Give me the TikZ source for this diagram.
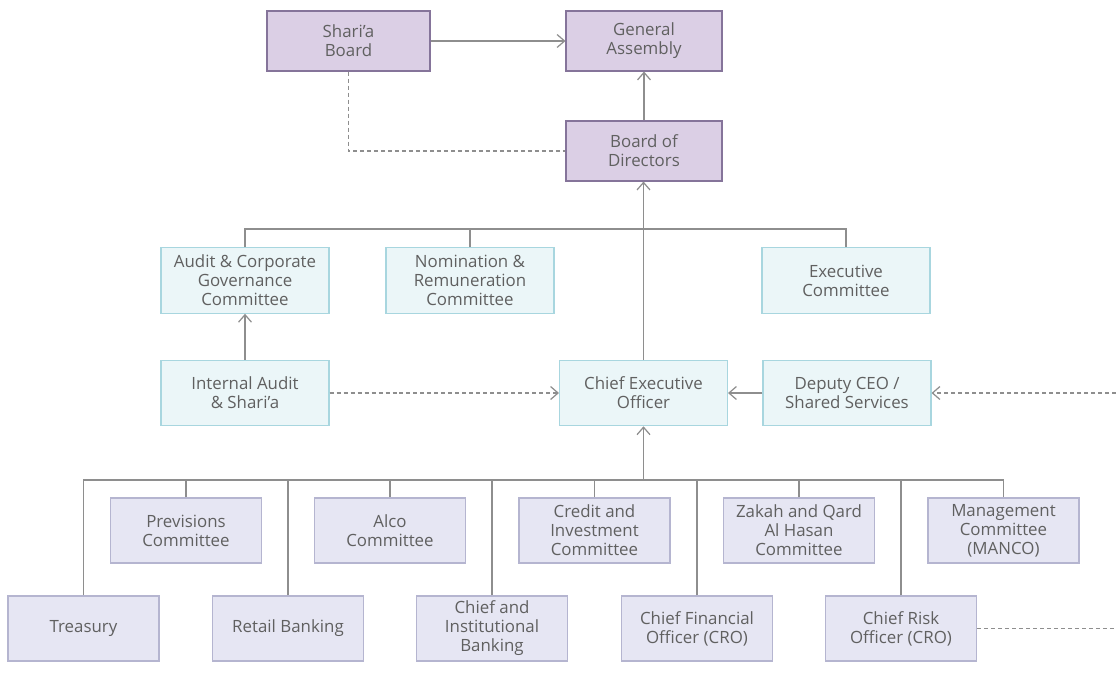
\documentclass[tikz,border=0pt]{standalone}
\usepackage{fontspec}
\setmainfont{Open Sans}
\usetikzlibrary{arrows.meta}
\definecolor{pfill}{HTML}{DBCFE5}
\definecolor{pline}{HTML}{85749A}
\definecolor{cfill}{HTML}{EBF6F8}
\definecolor{cline}{HTML}{A8D6DF}
\definecolor{lfill}{HTML}{E6E6F3}
\definecolor{lline}{HTML}{B5B5D0}
\definecolor{wire}{HTML}{8E8E8E}
\definecolor{ink}{HTML}{606060}
\begin{document}
\begin{tikzpicture}[x=0.02cm,y=-0.02cm,
  box/.style={align=center,inner sep=0pt,text=ink,line width=0.6pt,
    font=\fontsize{9.6}{10.8}\selectfont},
  pbox/.style={box,draw=pline,fill=pfill,minimum width=3.12cm,minimum height=1.2cm},
  cbox/.style={box,draw=cline,fill=cfill,minimum width=3.36cm,minimum height=1.31cm},
  lbox/.style={box,draw=lline,fill=lfill,minimum width=3.02cm,minimum height=1.3cm},
  conn/.style={draw=wire,line width=0.7pt},
  arr/.style={conn,-{Straight Barb[length=0.15cm,width=0.26cm]}},
  dashln/.style={conn,dash pattern=on 0.08cm off 0.06cm}]
\useasboundingbox (0,0) rectangle (1116,700);
% board level
\node[pbox,minimum width=3.26cm] (shari) at (348.5,41) {Shari'a\\Board};
\node[pbox] (ga) at (644,41) {General\\Assembly};
\node[pbox] (bod) at (644,151) {Board of\\Directors};
% committees
\node[cbox] (audit) at (245,280.5) {Audit \& Corporate\\Governance\\Committee};
\node[cbox] (nom) at (470,280.5) {Nomination \&\\Remuneration\\Committee};
\node[cbox] (exec) at (846,280.5) {Executive\\Committee};
\node[cbox] (ia) at (245,393) {Internal Audit\\\& Shari'a};
\node[cbox] (ceo) at (643.5,393) {Chief Executive\\Officer};
\node[cbox] (dep) at (847,393) {Deputy CEO /\\Shared Services};
% management
\foreach \n/\x/\t in {prev/186/Previsions\\Committee,alco/390/Alco\\Committee,
  credit/594.5/Credit and\\Investment\\Committee,zakah/799/Zakah and Qard\\Al Hasan\\Committee,
  manco/1003.5/Management\\Committee\\(MANCO)}
  \node[lbox] (\n) at (\x,530.5) {\t};
\foreach \n/\x/\t in {treas/83.5/Treasury,retail/288/Retail Banking,
  chinst/492/Chief and\\Institutional\\Banking,cfo/697/Chief Financial\\Officer (CRO),
  cro/901/Chief Risk\\Officer (CRO)}
  \node[lbox] (\n) at (\x,628.5) {\t};
% connectors
\draw[arr] (shari) -- (ga);
\draw[arr] (bod) -- (ga);
\draw[dashln] (shari.south) |- (bod.west);
\coordinate (j1) at (644,229);
\draw[conn] (audit.north) |- (j1) -| (exec.north);
\draw[conn] (nom.north) -- (nom.north |- j1);
\draw[arr] (ceo.north) -- (ceo.north |- bod.south);
\draw[arr] (ia) -- (audit);
\draw[arr,dashln] (ia) -- (ceo);
\draw[arr] (dep) -- (ceo);
\coordinate (j2) at (643.5,480);
\draw[conn] (treas.north) |- (j2) -| (manco.north);
\foreach \n in {prev,retail,alco,chinst,credit,cfo,zakah,cro}
  \draw[conn] (\n.north) -- (\n.north |- j2);
\draw[arr] (j2) -- (ceo.south);
\coordinate (e1) at (1116,393);
\coordinate (e2) at (1116,628.5);
\draw[arr,dashln] (e1) -- (dep);
\draw[dashln] (cro) -- (e2);
\end{tikzpicture}
\end{document}
